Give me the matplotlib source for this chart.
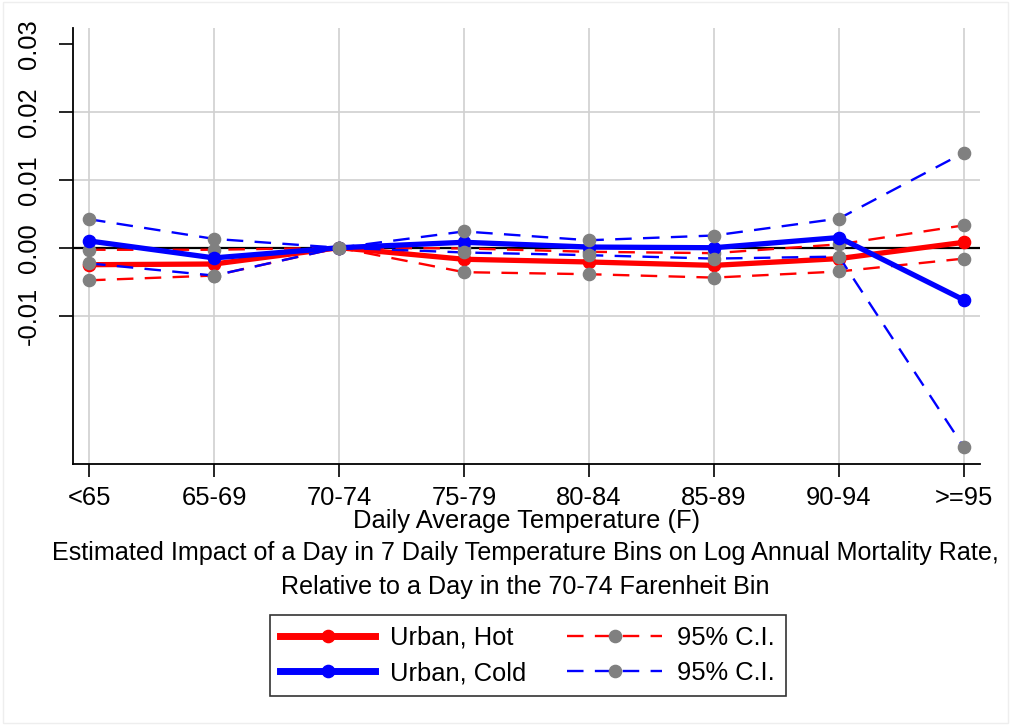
import matplotlib
matplotlib.use("Agg")
import matplotlib.pyplot as plt
from matplotlib.lines import Line2D
from matplotlib.patches import Rectangle

categories = ["<65", "65-69", "70-74", "75-79", "80-84", "85-89", "90-94", ">=95"]
hot = [-0.0025, -0.0024, 0.0, -0.0017, -0.0021, -0.0026, -0.0016, 0.0008]
hot_lo = [-0.0048, -0.0041, 0.0, -0.0036, -0.0039, -0.0044, -0.0035, -0.0016]
hot_hi = [-0.0003, -0.0003, 0.0, -0.0001, -0.0006, -0.0008, 0.0005, 0.0033]
cold = [0.0010, -0.0015, 0.0, 0.0008, 0.0001, 0.0000, 0.0015, -0.0077]
cold_lo = [-0.0023, -0.0041, 0.0, -0.0007, -0.0011, -0.0016, -0.0013, -0.0294]
cold_hi = [0.0042, 0.0013, 0.0, 0.0024, 0.0011, 0.0018, 0.0043, 0.0140]
yticks = [-0.01, 0.00, 0.01, 0.02, 0.03]
ytick_labels = ["-0.01", "0.00", "0.01", "0.02", "0.03"]

plt.rcParams['font.family'] = ['Liberation Sans', 'DejaVu Sans']
FS = 18.4

fig = plt.figure(figsize=(10.11, 7.25), dpi=100)
ax = fig.add_axes([0.0725, 0.36, 0.8968, 0.6014])

x = list(range(len(categories)))
RED = "#ff0000"
BLUE = "#0000ff"
GRAY = "#808080"
MS = 8.8
DLW = 1.7
DASH = (7, 4.8)

# grid
for xi in x:
    ax.axvline(xi, color="#d0d0d0", lw=1.2, zorder=0)
for yv in [-0.01, 0.01, 0.02]:
    ax.axhline(yv, color="#d0d0d0", lw=1.2, zorder=0)
ax.axhline(0, color="black", lw=1.6, zorder=1)

# red (hot)
ax.plot(x, hot, color=RED, lw=3.8, marker="o", ms=MS, mfc=RED, mec=RED, zorder=2)
for s in (hot_hi, hot_lo):
    ax.plot(x, s, color=RED, lw=DLW, ls=(0, DASH), marker="o", ms=MS,
            mfc=GRAY, mec=GRAY, zorder=3)
# blue (cold)
ax.plot(x, cold, color=BLUE, lw=3.8, marker="o", ms=MS, mfc=BLUE, mec=BLUE, zorder=4)
for s in (cold_hi, cold_lo):
    ax.plot(x, s, color=BLUE, lw=DLW, ls=(0, DASH), marker="o", ms=MS,
            mfc=GRAY, mec=GRAY, zorder=5)

ax.set_xlim(-0.126, 7.128)
ax.set_ylim(-0.03185, 0.03236)
ax.set_xticks(x)
ax.set_xticklabels(categories, fontsize=FS)
ax.set_yticks(yticks)
ax.set_yticklabels(ytick_labels, fontsize=FS, rotation=90, va="center")
ax.tick_params(axis="x", length=9, width=1.2, pad=7, color="black")
ax.tick_params(axis="y", length=10, width=1.2, pad=13, color="black")
for sp in ("top", "right"):
    ax.spines[sp].set_visible(False)
for sp in ("left", "bottom"):
    ax.spines[sp].set_linewidth(1.3)
ax.set_xlabel("Daily Average Temperature (F)", fontsize=FS, labelpad=-1)

fig.text(0.5195, 1 - 553 / 725, "Estimated Impact of a Day in 7 Daily Temperature Bins on Log Annual Mortality Rate,",
         ha="center", va="center", fontsize=18.1)
fig.text(0.5195, 1 - 587 / 725, "Relative to a Day in the 70-74 Farenheit Bin",
         ha="center", va="center", fontsize=18.1)

handles = [
    Line2D([], [], color=RED, lw=5, marker="o", ms=MS, mfc=RED, mec=RED),
    Line2D([], [], color=BLUE, lw=5, marker="o", ms=MS, mfc=BLUE, mec=BLUE),
    Line2D([], [], color=RED, lw=DLW, ls=(0, DASH), marker="o", ms=MS, mfc=GRAY, mec=GRAY),
    Line2D([], [], color=BLUE, lw=DLW, ls=(0, DASH), marker="o", ms=MS, mfc=GRAY, mec=GRAY),
]
labels = ["Urban, Hot", "Urban, Cold", "95% C.I.", "95% C.I."]
leg = fig.legend(handles, labels, ncol=2, loc="center", bbox_to_anchor=(0.522, 1 - 655.5 / 725),
                 fontsize=FS, frameon=True, fancybox=False, edgecolor="black",
                 handlelength=3.7, handletextpad=0.6, columnspacing=1.6,
                 labelspacing=0.45, borderpad=0.42, borderaxespad=0)
leg.get_frame().set_linewidth(1.2)

fig.patches.append(Rectangle((0.003, 0.003), 0.994, 0.994, transform=fig.transFigure,
                             fill=False, edgecolor="#eeeeee", lw=1.0))

fig.savefig("out.png", dpi=100)
